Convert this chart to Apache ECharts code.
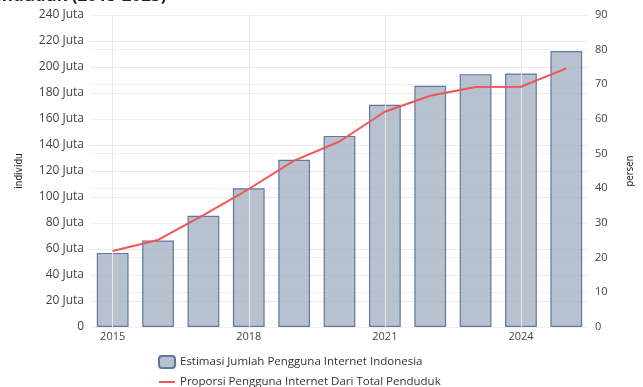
<!DOCTYPE html>
<html>
<head>
<meta charset="utf-8">
<script src="https://cdn.jsdelivr.net/npm/echarts@6/dist/echarts.min.js"></script>
<style>
  html, body { margin: 0; padding: 0; background: #fff; }
  #chart { width: 643px; height: 387px; }
</style>
</head>
<body>
<div id="chart"></div>
<script>
var years = ['2015', '2016', '2017', '2018', '2019', '2020', '2021', '2022', '2023', '2024', '2025'];
// estimated internet users (Juta)
var users = [57, 66.5, 85.5, 106.7, 128.7, 147, 171, 185.5, 194.5, 195, 212.3];
// share of population (persen)
var share = [21.9, 25.1, 32.3, 39.8, 48.0, 53.5, 62.1, 66.7, 69.2, 69.3, 74.6];
var gridYears = ['2015', '2018', '2021', '2024'];

var chart = echarts.init(document.getElementById('chart'));
var font = 'Open Sans';
var lineIcon = 'path://M0,0L0.01,0Z M0,5L16,5L16,7L0,7Z M16,12L15.99,12Z';
var option = {
  backgroundColor: '#fff',
  animation: false,
  textStyle: { fontFamily: font },
  title: {
    text: 'Penduduk (2015-2025)',
    left: -24,
    top: -17,
    textStyle: { fontFamily: font, fontSize: 17, fontWeight: 'bold', color: '#222' }
  },
  legend: {
    orient: 'vertical',
    left: 153,
    top: 350,
    height: 60,
    itemGap: 7,
    itemWidth: 16,
    itemHeight: 12,
    textStyle: { fontFamily: font, fontSize: 11.5, color: '#333' },
    data: [
      { name: 'Estimasi Jumlah Pengguna Internet Indonesia', icon: 'roundRect' },
      { name: 'Proporsi Pengguna Internet Dari Total Penduduk', icon: lineIcon }
    ]
  },
  grid: { left: 90, right: 51, top: 15, bottom: 60 },
  xAxis: {
    type: 'category',
    data: years,
    axisLine: { show: false },
    axisTick: { show: false },
    axisLabel: { interval: 2, color: '#444', fontSize: 11, margin: 4 },
    splitLine: { show: false }
  },
  yAxis: [{
    type: 'value',
    min: 0, max: 240, interval: 20,
    name: 'individu',
    nameLocation: 'middle',
    nameRotate: 90,
    nameGap: 66,
    nameTextStyle: { fontFamily: 'DejaVu Sans Condensed', fontSize: 10, color: '#222' },
    axisLabel: {
      color: '#444', fontSize: 12, margin: 6,
      formatter: function (v) { return v === 0 ? '0' : v + ' Juta'; }
    },
    axisTick: { show: false },
    axisLine: { show: false },
    splitLine: { lineStyle: { color: '#ebebeb', width: 1 } }
  }, {
    type: 'value',
    min: 0, max: 90, interval: 10,
    name: 'persen',
    nameLocation: 'middle',
    nameRotate: 90,
    nameGap: 36,
    nameTextStyle: { fontFamily: 'DejaVu Sans Condensed', fontSize: 10, color: '#222' },
    axisLabel: { color: '#444', fontSize: 11, margin: 6 },
    axisTick: { show: false },
    axisLine: { show: false },
    splitLine: { lineStyle: { color: '#f0f0f0', width: 1 } }
  }],
  series: [{
    name: 'Estimasi Jumlah Pengguna Internet Indonesia',
    type: 'bar',
    yAxisIndex: 0,
    barWidth: '70%',
    data: users,
    itemStyle: { color: 'rgba(165,178,196,0.8)', borderColor: '#62779a', borderWidth: 1.2 },
    markLine: {
      silent: true,
      symbol: 'none',
      label: { show: false },
      lineStyle: { color: '#e6e6e6', type: 'solid', width: 1 },
      data: gridYears.map(function (y) { return { xAxis: y }; })
    }
  }, {
    name: 'Proporsi Pengguna Internet Dari Total Penduduk',
    type: 'line',
    yAxisIndex: 1,
    data: share,
    symbol: 'none',
    lineStyle: { color: '#f0555a', width: 2 },
    itemStyle: { color: '#f0555a' },
    z: 5
  }]
};
chart.setOption(option);
</script>
</body>
</html>
